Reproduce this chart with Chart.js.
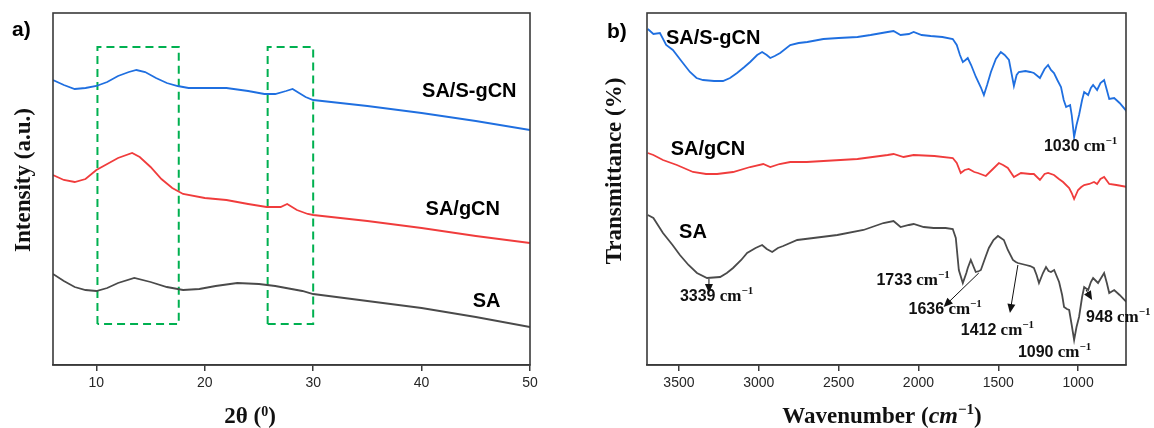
<!DOCTYPE html>
<html><head><meta charset="utf-8">
<script src="https://cdn.jsdelivr.net/npm/chart.js@4.4.0/dist/chart.umd.min.js"></script>
<style>
html,body{margin:0;padding:0;background:#fff;}
#wrap{position:relative;width:1154px;height:428px;overflow:hidden;background:#fff;}
canvas{position:absolute;top:0;}
#ca{left:0;} #cb{left:577px;}
</style></head><body>
<div id="wrap">
<canvas id="ca" width="577" height="428" style="width:577px;height:428px"></canvas>
<canvas id="cb" width="577" height="428" style="width:577px;height:428px"></canvas>
</div>
<script>
// ---------- Panel a) XRD ----------
const xrdTicks = [10, 20, 30, 40, 50];
const sSgcnTheta = [6,7,8,9,10,11,12,13,13.7,14.5,15.5,16.5,17.5,18.5,20,22,24,25.5,26.5,27.5,28.1,28.7,29.3,30,35,40,45,50];
const sSgcnInt   = [285,280,276,277,279,283,289,293,295,293,287,282,279,277,277,277,274,271,271,274,276,272,268,265,259,252,244,235];
const gcnTheta = [6,7,8,9,10,11,12,13.3,14,15,16,17,18,20,22,24,25.7,27,27.6,28.5,29.5,30,35,40,45,50];
const gcnInt   = [190,185,183,186,195,201,207,212,208,198,186,177,171,167,165,161,158,158,161,155,151,150,144,137,129,122];
const saTheta = [6,7,8,9,10,11,12,13.5,15,16.5,18,19.5,21,23,25,26.5,28,29,30,35,40,45,50];
const saInt   = [91,84,78,75,74,77,82,87,83,78,75,76,79,82,81,79,76,74,71,64,57,48,38];
const box1Theta = [10.1, 17.6];
const box2Theta = [25.8, 30.0];
const boxInt = [41, 318];
const xrdNames = ['SA/S-gCN', 'SA/gCN', 'SA'];

// ---------- Panel b) FTIR ----------
const ftirTicks = [3500, 3000, 2500, 2000, 1500, 1000];
const sSgcnWn = [3695,3660,3619,3580,3538,3480,3431,3390,3349,3280,3224,3180,3136,3090,3054,3010,2979,2950,2928,2900,2866,2803,2750,2696,2595,2500,2382,2300,2193,2156,2112,2060,2030,1980,1923,1850,1785,1760,1740,1722,1705,1691,1670,1640,1610,1590,1570,1546,1515,1484,1460,1433,1415,1402,1385,1371,1330,1300,1277,1239,1210,1188,1170,1151,1130,1107,1090,1075,1050,1040,1025,1010,994,975,962,937,920,906,881,860,837,820,805,774,740,692];
const sSgcnT  = [336,331,332,320,315,303,293,287,285,284,284,287,292,298,303,310,313,310,307,309,312,320,322,323,326,327,328,330,333,334,330,331,333,330,329,328,326,320,310,303,305,307,300,288,278,270,280,293,306,313,310,305,290,279,290,293,294,293,292,287,296,300,295,292,285,278,265,258,260,250,228,240,250,265,273,270,277,280,275,282,285,275,266,267,262,253];
const gcnWn = [3695,3660,3600,3513,3412,3330,3261,3161,3054,2972,2928,2870,2803,2700,2595,2382,2193,2156,2093,2030,1900,1785,1760,1735,1710,1685,1650,1628,1578,1540,1496,1470,1440,1402,1358,1300,1277,1239,1210,1188,1151,1120,1094,1056,1040,1025,1000,980,962,930,900,881,860,837,805,760,692];
const gcnT  = [212,210,205,200,193,191,191,193,198,201,198,201,203,203,204,206,210,211,208,210,209,207,202,192,195,196,193,192,189,195,202,200,197,188,192,191,191,185,191,192,190,186,183,177,172,166,175,178,180,181,183,181,186,188,181,180,178];
const saWn = [3695,3660,3600,3540,3494,3440,3387,3324,3242,3200,3161,3110,3073,3020,2979,2950,2916,2880,2847,2759,2658,2508,2344,2219,2156,2112,2060,2030,1967,1905,1830,1785,1766,1747,1722,1700,1691,1672,1641,1620,1609,1580,1559,1530,1502,1465,1440,1408,1390,1377,1327,1300,1277,1260,1245,1220,1201,1185,1170,1150,1119,1100,1088,1070,1056,1040,1025,1010,994,975,962,937,920,906,875,837,820,805,774,740,698];
const saT  = [150,147,132,120,110,100,92,87,88,92,97,105,112,117,120,116,113,117,119,125,127,130,135,142,144,138,140,141,138,137,137,136,127,95,82,92,97,105,93,94,95,108,117,125,129,125,115,105,103,102,100,99,97,90,82,92,98,94,93,95,83,70,58,56,55,40,25,38,48,68,78,75,83,87,82,92,82,72,75,70,63];
const peakNumbers = ['1030', '3339', '1733', '1636', '1412', '1090', '948'];

// ---------- text / arrow placement (data coordinates) ----------
const xrdLabelPos = [[44.4, 274], [43.8, 156], [46.0, 64]];
const ftirLabelPos = [[3286, 327], [3318, 216], [3412, 133]];
const peakLabelPos = [[1214, 218], [3494, 68], [2263, 84], [2062, 55], [1735, 34], [1377, 12], [950, 47]];
const arrowPos = [[3312, 86, 3312, 72], [1622, 92, 1842, 58], [1377, 100, 1427, 52], [950, 75, 912, 65]];

const SANS = '"Liberation Sans", Arial, sans-serif';
const SERIF = '"Liberation Serif", "Times New Roman", serif';
const BLUE = '#1f6fe0', RED = '#f03c3c', GRAY = '#4a4a4a', GREEN = '#00b050';
const FRAME = '#3a3a3a';

function pts(xs, ys) { return xs.map((x, i) => ({ x: x, y: ys[i] })); }
function rect(xr, yr) {
  return [{x:xr[0],y:yr[0]},{x:xr[0],y:yr[1]},{x:xr[1],y:yr[1]},{x:xr[1],y:yr[0]},{x:xr[0],y:yr[0]}];
}
function lineDs(data, color, w) {
  return { data: data, borderColor: color, borderWidth: w || 1.8, pointRadius: 0, tension: 0, fill: false };
}
function drawRich(ctx, segs, x, y, align) {
  let total = 0;
  segs.forEach(s => { ctx.font = s.font; total += ctx.measureText(s.t).width; });
  let cx = align === 'center' ? x - total / 2 : x;
  ctx.textBaseline = 'middle';
  ctx.textAlign = 'left';
  segs.forEach(s => {
    ctx.font = s.font;
    ctx.fillText(s.t, cx, y + (s.dy || 0));
    cx += ctx.measureText(s.t).width;
  });
}
function drawFrame(chart) {
  const a = chart.chartArea, ctx = chart.ctx;
  ctx.save();
  ctx.strokeStyle = FRAME; ctx.lineWidth = 1.6;
  ctx.strokeRect(a.left, a.top, a.right - a.left, a.bottom - a.top);
  ctx.restore();
}
function vTitle(ctx, text, x, y) {
  ctx.save();
  ctx.translate(x, y); ctx.rotate(-Math.PI / 2);
  ctx.fillStyle = '#111'; ctx.font = 'bold 23px ' + SERIF;
  ctx.textAlign = 'center'; ctx.textBaseline = 'middle';
  ctx.fillText(text, 0, 0);
  ctx.restore();
}
function xScaleOpts(min, max, ticks, reverse) {
  return {
    type: 'linear', min: min, max: max, reverse: !!reverse,
    afterBuildTicks: s => { s.ticks = ticks.map(v => ({ value: v })); },
    afterFit: s => { s.height = 63; },
    ticks: { font: { family: 'Liberation Sans', size: 14 }, color: '#262626', padding: 4, maxRotation: 0, autoSkip: false,
             callback: v => String(v) },
    grid: { drawOnChartArea: false, drawTicks: true, tickLength: 6, color: FRAME, lineWidth: 1.5 },
    border: { display: true, color: FRAME, width: 1.6 }
  };
}

// ---------- Chart a ----------
const plugA = {
  id: 'decorA',
  afterDraw(chart) {
    const ctx = chart.ctx, xs = chart.scales.x, ys = chart.scales.y;
    drawFrame(chart);
    ctx.save();
    ctx.fillStyle = '#000';
    ctx.font = 'bold 20px ' + SANS; ctx.textAlign = 'center'; ctx.textBaseline = 'middle';
    xrdNames.forEach((n, i) => ctx.fillText(n, xs.getPixelForValue(xrdLabelPos[i][0]), ys.getPixelForValue(xrdLabelPos[i][1])));
    ctx.font = 'bold 21px ' + SANS; ctx.textAlign = 'left';
    ctx.fillText('a)', 12, 30);
    ctx.fillStyle = '#111';
    drawRich(ctx, [
      { t: '2θ (', font: 'bold 23px ' + SERIF },
      { t: '0', font: 'bold 14px ' + SERIF, dy: -5 },
      { t: ')', font: 'bold 23px ' + SERIF }
    ], 250, 417, 'center');
    ctx.restore();
    vTitle(ctx, 'Intensity (a.u.)', 24, 180);
  }
};
new Chart(document.getElementById('ca'), {
  type: 'line',
  data: { datasets: [
    lineDs(pts(sSgcnTheta, sSgcnInt), BLUE),
    lineDs(pts(gcnTheta, gcnInt), RED),
    lineDs(pts(saTheta, saInt), GRAY),
    Object.assign(lineDs(rect(box1Theta, boxInt), GREEN, 2), { borderDash: [8, 5] }),
    Object.assign(lineDs(rect(box2Theta, boxInt), GREEN, 2), { borderDash: [8, 5] })
  ] },
  options: {
    responsive: false, animation: false, devicePixelRatio: 1,
    layout: { padding: { left: 53, top: 13, right: 47, bottom: 0 } },
    plugins: { legend: { display: false }, tooltip: { enabled: false } },
    scales: { x: xScaleOpts(6, 50, xrdTicks, false), y: { display: false, min: 0, max: 352 } }
  },
  plugins: [plugA]
});

// ---------- Chart b ----------
const plugB = {
  id: 'decorB',
  afterDraw(chart) {
    const ctx = chart.ctx, xs = chart.scales.x, ys = chart.scales.y;
    drawFrame(chart);
    ctx.save();
    ctx.fillStyle = '#000';
    ctx.font = 'bold 20px ' + SANS; ctx.textAlign = 'center'; ctx.textBaseline = 'middle';
    xrdNames.forEach((n, i) => ctx.fillText(n, xs.getPixelForValue(ftirLabelPos[i][0]), ys.getPixelForValue(ftirLabelPos[i][1])));
    ctx.font = 'bold 21px ' + SANS; ctx.textAlign = 'left';
    ctx.fillText('b)', 30, 32);
    // arrows
    ctx.strokeStyle = '#111'; ctx.fillStyle = '#111'; ctx.lineWidth = 1;
    arrowPos.forEach(a => {
      const x1 = xs.getPixelForValue(a[0]), y1 = ys.getPixelForValue(a[1]);
      const x2 = xs.getPixelForValue(a[2]), y2 = ys.getPixelForValue(a[3]);
      const ang = Math.atan2(y2 - y1, x2 - x1), L = 9, W = 4;
      ctx.beginPath(); ctx.moveTo(x1, y1);
      ctx.lineTo(x2 - Math.cos(ang) * L * 0.8, y2 - Math.sin(ang) * L * 0.8); ctx.stroke();
      ctx.beginPath(); ctx.moveTo(x2, y2);
      ctx.lineTo(x2 - Math.cos(ang) * L - Math.sin(ang) * W, y2 - Math.sin(ang) * L + Math.cos(ang) * W);
      ctx.lineTo(x2 - Math.cos(ang) * L + Math.sin(ang) * W, y2 - Math.sin(ang) * L - Math.cos(ang) * W);
      ctx.closePath(); ctx.fill();
    });
    // peak labels
    ctx.fillStyle = '#111';
    peakNumbers.forEach((n, i) => {
      drawRich(ctx, [
        { t: n, font: 'bold 16px ' + SANS },
        { t: ' cm', font: 'bold 17px ' + SERIF },
        { t: '−1', font: 'bold 11px ' + SERIF, dy: -6 }
      ], xs.getPixelForValue(peakLabelPos[i][0]), ys.getPixelForValue(peakLabelPos[i][1]), 'left');
    });
    drawRich(ctx, [
      { t: 'Wavenumber (', font: 'bold 23px ' + SERIF },
      { t: 'cm', font: 'italic bold 24px ' + SERIF },
      { t: '−1', font: 'bold 15px ' + SERIF, dy: -7 },
      { t: ')', font: 'bold 23px ' + SERIF }
    ], 305, 417, 'center');
    ctx.restore();
    vTitle(ctx, 'Transmittance (%)', 38, 171);
  }
};
new Chart(document.getElementById('cb'), {
  type: 'line',
  data: { datasets: [
    lineDs(pts(sSgcnWn, sSgcnT), BLUE),
    lineDs(pts(gcnWn, gcnT), RED),
    lineDs(pts(saWn, saT), GRAY)
  ] },
  options: {
    responsive: false, animation: false, devicePixelRatio: 1,
    layout: { padding: { left: 70, top: 13, right: 28, bottom: 0 } },
    plugins: { legend: { display: false }, tooltip: { enabled: false } },
    scales: { x: xScaleOpts(700, 3700, ftirTicks, true), y: { display: false, min: 0, max: 352 } }
  },
  plugins: [plugB]
});
</script>
</body></html>
